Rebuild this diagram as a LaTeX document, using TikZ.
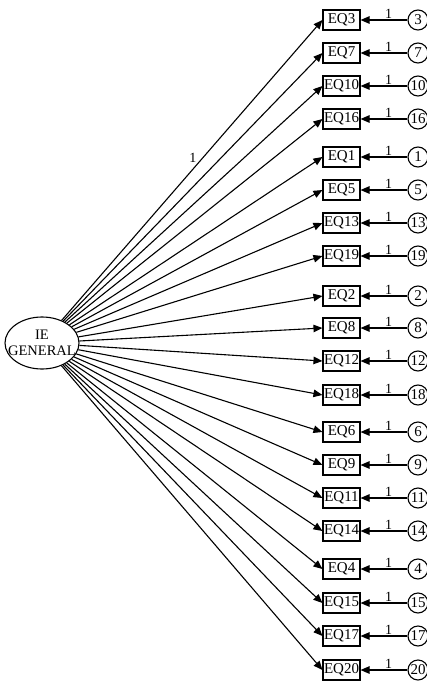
\documentclass[tikz,border=0pt]{standalone}
\usepackage{fontspec}
\setmainfont{Liberation Serif}
\usetikzlibrary{arrows.meta,shapes.geometric}
\begin{document}
\begin{tikzpicture}[x=1pt,y=-1pt,
  obs/.style={draw, line width=1.1pt, minimum width=37pt, minimum height=20pt, inner sep=0pt, font=\fontsize{15}{15}\selectfont},
  err/.style={draw, circle, line width=1.1pt, minimum size=20pt, inner sep=0pt, font=\fontsize{15}{15}\selectfont},
  lat/.style={draw, ellipse, line width=1.1pt, minimum width=74pt, minimum height=52pt, inner sep=0pt},
  lattext/.style={align=center, inner sep=0pt, font=\fontsize{14.5}{16}\selectfont},
  arr/.style={line width=1.1pt, -{Triangle[length=9pt,width=7.5pt]}},
  lbl/.style={font=\fontsize{14}{14}\selectfont, inner sep=1pt}
]
\useasboundingbox (0,0) rectangle (427,688);
\node[lat] (lat) at (42,343) {};
\node[lattext] (lattxt) at (42,343) {IE\\GENERAL};
\foreach \e/\y in {3/20,7/53,10/86,16/119,1/157,5/190,13/223,19/256,2/296,8/328,12/361,18/395,6/432,9/465,11/498,14/531,4/569,15/603,17/636,20/670}{
  \node[obs] (b\e) at (341.5,\y) {EQ\e};
  \node[err] (e\e) at (418,\y) {\e};
  \draw[arr] (e\e) -- node[pos=0.4, above, lbl] {1} (b\e);
  \draw[arr] (lat) -- (b\e.west);
}
\path (lat) -- (b3.west) node[pos=0.54, left=5pt, lbl] {1};
\end{tikzpicture}
\end{document}
